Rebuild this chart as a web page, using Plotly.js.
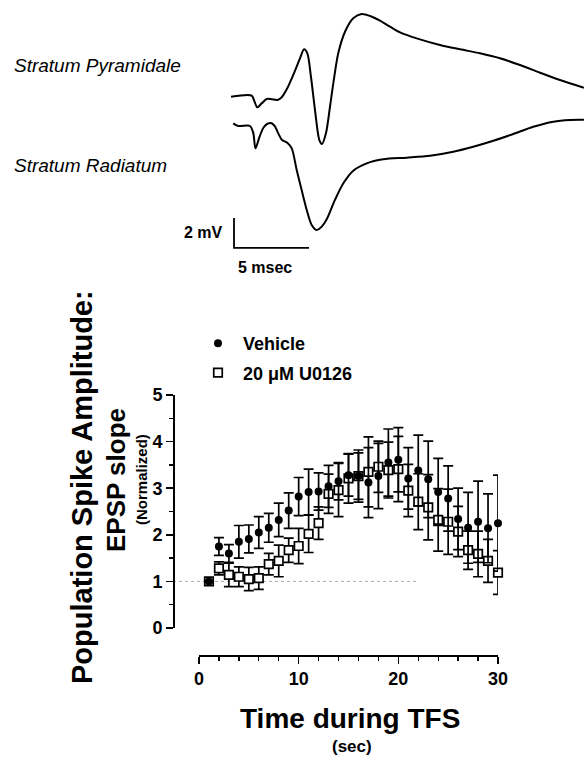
<!DOCTYPE html>
<html>
<head>
<meta charset="utf-8">
<script src="https://cdn.plot.ly/plotly-3.0.1.min.js"></script>
<style>html,body{margin:0;padding:0;background:#fff;}#chart{width:584px;height:758px;}</style>
</head>
<body>
<div id="chart"></div>
<script>
// ---- Data: time during TFS (sec) ----
const timeSec = [1,2,3,4,5,6,7,8,9,10,11,12,13,14,15,16,17,18,19,20,21,22,23,24,25,26,27,28,29,30];
const vehicleMean = [1.00,1.75,1.60,1.85,1.91,2.05,2.15,2.32,2.52,2.82,2.92,2.93,3.04,3.15,3.28,3.26,3.12,3.26,3.55,3.61,3.21,3.38,3.19,2.92,2.78,2.34,2.15,2.28,2.14,2.25];
const vehicleSem  = [0,0.19,0.19,0.35,0.30,0.34,0.31,0.36,0.38,0.41,0.49,0.40,0.45,0.40,0.45,0.56,0.75,0.70,0.72,0.69,0.66,0.76,0.82,0.72,0.70,0.66,0.76,0.87,0.74,1.03];
const u0126Mean   = [1.00,1.28,1.14,1.10,1.05,1.07,1.37,1.44,1.67,1.76,2.02,2.25,2.88,2.96,3.21,3.26,3.35,3.46,3.39,3.41,2.95,2.71,2.59,2.32,2.28,2.07,1.67,1.59,1.44,1.19];
const u0126Sem    = [0,0.14,0.25,0.21,0.25,0.24,0.23,0.34,0.26,0.38,0.40,0.35,0.42,0.57,0.53,0.50,0.75,0.55,0.60,0.70,0.56,0.60,0.70,0.67,0.70,0.54,0.41,0.49,0.46,0.47];
const baselineValue = 1;
const baselineEnd = 22;

// ---- Data: example traces (ms, mV relative to baseline) ----
const pyrT = [0,1.38,1.53,1.75,2.05,2.38,2.71,3.09,3.38,3.75,4.15,4.6,4.87,5.09,5.33,5.6,5.89,6.07,6.33,6.6,6.82,7.15,7.6,8.15,8.71,9.27,9.93,10.6,11.27,12.38,13.93,15.27,16.6,17.93,19.27,20.6,21.93,23.53];
const pyrV = [0,0.07,-0.22,-0.71,-0.44,-0.15,-0.17,-0.22,-0.04,0.56,1.45,2.56,3.16,2.89,1.33,-0.89,-2.89,-3.15,-2.44,-0.67,0.89,2.89,4.33,5.23,5.51,5.38,5.07,4.67,4.29,3.89,3.45,3.16,2.89,2.56,2.11,1.60,1.11,0.60];
const radT = [0.15,0.49,1.27,1.49,1.63,1.9,2.17,2.47,2.71,2.93,3.15,3.4,3.75,4.05,4.38,4.71,5.05,5.38,5.71,6.05,6.38,6.93,7.49,8.15,9.05,10.15,11.71,13.27,14.82,16.15,17.49,18.82,20.15,21.49,22.6,23.53];
const radV = [0,-0.18,-0.18,-0.67,-1.67,-0.91,-0.28,-0.01,0,-0.21,-0.67,-1.11,-1.29,-1.67,-3.11,-4.45,-5.78,-6.78,-7.11,-6.89,-6.4,-5.11,-4.0,-3.16,-2.67,-2.4,-2.29,-2.16,-1.89,-1.56,-1.16,-0.71,-0.23,0.11,0.22,0.23];
const scaleBarMs = 5, scaleBarMv = 2;
const scaleBarOrigin = [0.2, -8.31];

// ---- Layout helpers (pixels -> paper fractions) ----
const W = 584, H = 758;
const px = v => v / W, py = v => (H - v) / H;
const FONT = "Liberation Sans, Arial, Helvetica, sans-serif";
const black = "#000";

const xAxisPx = [199, 498], yAxisPx = [628, 395];
const xRange = [0, 30], yRange = [0, 5];

const traces = [
  {
    type: "scatter", mode: "markers", name: "20 \u03bcM U0126",
    x: timeSec, y: u0126Mean, xaxis: "x", yaxis: "y",
    error_y: {type: "data", array: u0126Sem, visible: true, color: black, thickness: 1.7, width: 5},
    marker: {symbol: "square", size: 8.5, color: "#fff", line: {color: black, width: 1.7}},
    cliponaxis: false, legendrank: 2, legendgroup: "b"
  },
  {
    type: "scatter", mode: "markers", name: "Vehicle",
    x: timeSec, y: vehicleMean, xaxis: "x", yaxis: "y",
    error_y: {type: "data", array: vehicleSem, visible: true, color: black, thickness: 1.7, width: 5},
    marker: {symbol: "circle", size: 8, color: black},
    cliponaxis: false, legendrank: 1, legendgroup: "a"
  },
  {
    type: "scatter", mode: "lines", x: pyrT, y: pyrV, xaxis: "x3", yaxis: "y3",
    line: {color: black, width: 2, shape: "spline", smoothing: 0.8}, showlegend: false, hoverinfo: "skip"
  },
  {
    type: "scatter", mode: "lines", x: radT, y: radV, xaxis: "x3", yaxis: "y4",
    line: {color: black, width: 2, shape: "spline", smoothing: 0.8}, showlegend: false, hoverinfo: "skip"
  },
  {
    type: "scatter", mode: "lines",
    x: [scaleBarOrigin[0], scaleBarOrigin[0], scaleBarOrigin[0] + scaleBarMs],
    y: [scaleBarOrigin[1] + scaleBarMv, scaleBarOrigin[1], scaleBarOrigin[1]],
    xaxis: "x3", yaxis: "y4", line: {color: black, width: 1.8}, showlegend: false, hoverinfo: "skip"
  }
];

// waveform panel: 15 px per ms and per mV
const pxPerMs = 15, pxPerMv = 15, t0px = 231;
const topPanelPx = 290;
const x3Range = [-t0px / pxPerMs, (W - t0px) / pxPerMs];
const y3Range = [-(topPanelPx - 96.7) / pxPerMv, 96.7 / pxPerMv];
const y4Range = [-(topPanelPx - 123.3) / pxPerMv, 123.3 / pxPerMv];

const xDomain = [px(xAxisPx[0]), px(xAxisPx[1])];
const yAxisPos = px(173);

const layout = {
  width: W, height: H,
  margin: {l: 0, r: 0, t: 0, b: 0},
  paper_bgcolor: "#fff", plot_bgcolor: "rgba(0,0,0,0)",
  font: {family: FONT, color: black},
  showlegend: true,
  legend: {
    x: px(193), y: py(325), xanchor: "left", yanchor: "top",
    font: {family: FONT, size: 18, weight: "bold", color: black},
    bgcolor: "rgba(0,0,0,0)", tracegroupgap: 3, traceorder: "grouped", itemwidth: 40
  },
  xaxis: {
    domain: xDomain, range: xRange, anchor: "free", position: py(655),
    showline: true, linecolor: black, linewidth: 1.6, zeroline: false, showgrid: false,
    ticks: "outside", ticklen: 7, tickwidth: 1.6, tickcolor: black, dtick: 10, tick0: 0,
    minor: {dtick: 2, ticks: "outside", ticklen: 4, tickwidth: 1.4, tickcolor: black, showgrid: false},
    tickfont: {family: FONT, size: 18, weight: "bold", color: black},
    fixedrange: true
  },
  yaxis: {
    domain: [py(yAxisPx[0]), py(yAxisPx[1])], range: yRange, anchor: "free", position: yAxisPos,
    showline: true, linecolor: black, linewidth: 1.6, zeroline: false, showgrid: false,
    ticks: "outside", ticklen: 7, tickwidth: 1.6, tickcolor: black, dtick: 1, tick0: 0,
    minor: {dtick: 0.5, ticks: "outside", ticklen: 4, tickwidth: 1.4, tickcolor: black, showgrid: false},
    tickfont: {family: FONT, size: 18, weight: "bold", color: black},
    fixedrange: true
  },
  xaxis3: {domain: [0, 1], range: x3Range, anchor: "y3", visible: false, fixedrange: true},
  yaxis3: {domain: [py(topPanelPx), 1], range: y3Range, anchor: "x3", visible: false, fixedrange: true},
  yaxis4: {domain: [py(topPanelPx), 1], range: y4Range, anchor: "x3", overlaying: "y3", visible: false, fixedrange: true},
  shapes: [
    {
      type: "line", xref: "x domain", yref: "y domain",
      x0: (173 - xAxisPx[0]) / (xAxisPx[1] - xAxisPx[0]),
      x1: (baselineEnd - xRange[0]) / (xRange[1] - xRange[0]),
      y0: (baselineValue - yRange[0]) / (yRange[1] - yRange[0]),
      y1: (baselineValue - yRange[0]) / (yRange[1] - yRange[0]),
      line: {color: "#aaa", width: 1, dash: "dot"}, layer: "below"
    }
  ],
  annotations: [
    {text: "<i>Stratum Pyramidale</i>", xref: "paper", yref: "paper", x: px(12), y: py(65), xanchor: "left", yanchor: "middle", showarrow: false, font: {family: FONT, size: 19, color: black}},
    {text: "<i>Stratum Radiatum</i>", xref: "paper", yref: "paper", x: px(12), y: py(166), xanchor: "left", yanchor: "middle", showarrow: false, font: {family: FONT, size: 19, color: black}},
    {text: "<b>2 mV</b>", xref: "x3", yref: "y4", x: scaleBarOrigin[0], y: scaleBarOrigin[1] + scaleBarMv / 2, xanchor: "right", yanchor: "middle", xshift: -9, showarrow: false, font: {family: FONT, size: 16, color: black}},
    {text: "<b>5 msec</b>", xref: "x3", yref: "y4", x: scaleBarOrigin[0], y: scaleBarOrigin[1], xanchor: "left", yanchor: "top", xshift: 2, yshift: -9, showarrow: false, font: {family: FONT, size: 16, color: black}},
    {text: "<b>Population Spike Amplitude:</b>", xref: "paper", yref: "paper", x: px(82), y: py(487), xanchor: "center", yanchor: "middle", textangle: -90, showarrow: false, font: {family: FONT, size: 29, color: black}},
    {text: "<b>EPSP slope</b>", xref: "paper", yref: "paper", x: px(116), y: py(480), xanchor: "center", yanchor: "middle", textangle: -90, showarrow: false, font: {family: FONT, size: 26, color: black}},
    {text: "<b>(Normalized)</b>", xref: "paper", yref: "paper", x: px(141), y: py(480), xanchor: "center", yanchor: "middle", textangle: -90, showarrow: false, font: {family: FONT, size: 15, color: black}},
    {text: "<b>Time during TFS</b>", xref: "paper", yref: "paper", x: px(350), y: py(718), xanchor: "center", yanchor: "middle", showarrow: false, font: {family: FONT, size: 28, color: black}},
    {text: "<b>(sec)</b>", xref: "paper", yref: "paper", x: px(352), y: py(746), xanchor: "center", yanchor: "middle", showarrow: false, font: {family: FONT, size: 17, color: black}}
  ]
};

Plotly.newPlot("chart", traces, layout, {staticPlot: true, displayModeBar: false});
</script>
</body>
</html>
